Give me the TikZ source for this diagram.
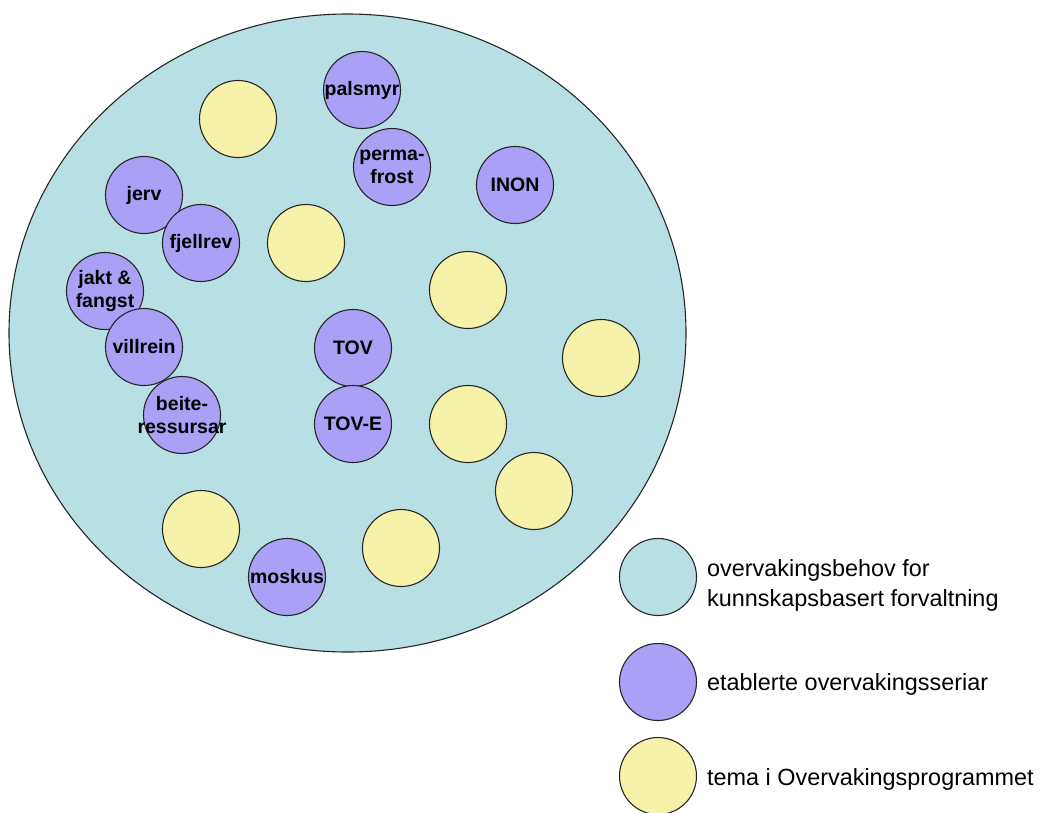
\documentclass[tikz,border=0pt]{standalone}
\usepackage{fontspec}
\setmainfont{Liberation Sans}
\definecolor{bigfill}{RGB}{184,223,227}
\definecolor{purp}{RGB}{170,160,246}
\definecolor{yell}{RGB}{247,242,170}
\begin{document}
\begin{tikzpicture}[x=1pt,y=-1pt,
  dot/.style={circle,draw=black!85,line width=1.1pt,minimum size=77pt,inner sep=0pt},
  est/.style={dot,fill=purp},
  tema/.style={dot,fill=yell},
  lab/.style={font=\fontsize{19.5}{22.5}\selectfont\bfseries,align=center,inner sep=0pt},
  leg/.style={font=\fontsize{23.4}{30}\selectfont,align=left,anchor=west,inner sep=0pt}]
\useasboundingbox (0,0) rectangle (1041,812);
\draw[fill=bigfill,draw=black!85,line width=1.1pt] (347.5,333) ellipse [x radius=338.5pt,y radius=319pt];
\coordinate (bigc) at (347.5,333);
% theme circles (yellow)
\node[tema] (y1) at (238,119) {};
\node[tema] (y2) at (306,243) {};
\node[tema] (y3) at (468,290) {};
\node[tema] (y4) at (468,424) {};
\node[tema] (y5) at (601,358) {};
\node[tema] (y6) at (534,491) {};
\node[tema] (y7) at (201,529) {};
\node[tema] (y8) at (401,548) {};
% established series (purple)
\node[est] (palsmyr) at (362,90) {};
\node[est] (perma) at (392,167) {};
\node[est] (inon) at (515,185) {};
\node[est] (jerv) at (144,195) {};
\node[est] (fjellrev) at (201,243) {};
\node[est] (jakt) at (105,291) {};
\node[est] (villrein) at (144,347) {};
\node[est] (beite) at (182,415) {};
\node[est] (tov) at (353,348) {};
\node[est] (tove) at (353,424) {};
\node[est] (moskus) at (287,577) {};
% labels
\node[lab] at (palsmyr.center) {palsmyr};
\node[lab] at (perma.center) {perma-\\frost};
\node[lab] at (inon.center) {INON};
\node[lab] at (jerv.center) {jerv};
\node[lab] at (fjellrev.center) {fjellrev};
\node[lab] at (jakt.center) {jakt \&\\fangst};
\node[lab] at (villrein.center) {villrein};
\node[lab] at (beite.center) {beite-\\ressursar};
\node[lab] at (tov.center) {TOV};
\node[lab] at (tove.center) {TOV-E};
\node[lab] at (moskus.center) {moskus};
% legend
\node[dot,fill=bigfill] (l1) at (658,577) {};
\node[est] (l2) at (658,682) {};
\node[tema] (l3) at (658,776) {};
\node[leg] (t1) at (707,585) {overvakingsbehov for\\kunnskapsbasert forvaltning};
\node[leg] (t2) at (707,684) {etablerte overvakingsseriar};
\node[leg] (t3) at (707,779) {tema i Overvakingsprogrammet};
\end{tikzpicture}
\end{document}
